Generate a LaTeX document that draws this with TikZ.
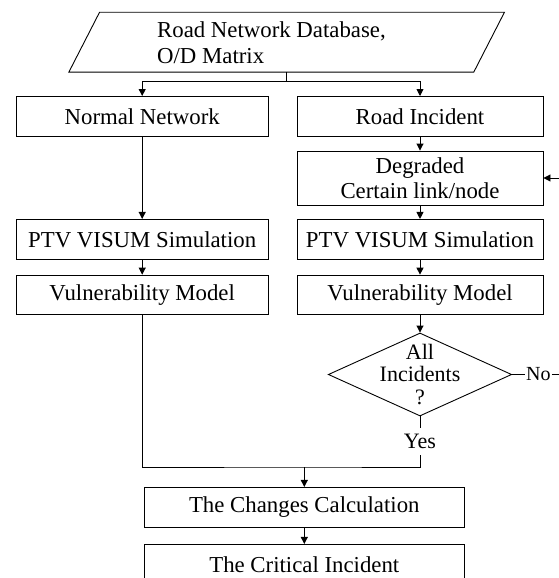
\documentclass[tikz,border=0pt]{standalone}
\usepackage{fontspec}
\setmainfont{Liberation Serif}
\usetikzlibrary{shapes.geometric,arrows.meta,calc}
\begin{document}
\begin{tikzpicture}[x=1pt,y=-1pt,line width=0.9pt,
  box/.style={draw, rectangle, inner sep=0pt, align=center, font=\fontsize{22.8}{25.5}\selectfont},
  lw/.style={minimum width=252.3pt},
  rw/.style={minimum width=246pt},
  hh/.style={minimum height=39.8pt},
  arr/.style={-{Triangle[length=7pt,width=7pt]}},
  lbl/.style={font=\fontsize{22}{22.5}\selectfont, inner sep=0pt}]
\useasboundingbox (0,0) rectangle (559,578);
\clip (0,0) rectangle (559,578);
% database
\node[minimum width=434.7pt, minimum height=59pt, inner sep=0pt] (db) at (286.65,42.2) {};
\draw (db.south west) -- ($(db.north west)+(30.7,0)$) -- (db.north east) -- ($(db.south east)-(30.7,0)$) -- cycle;
\node[align=left, anchor=west, inner sep=0pt, font=\fontsize{22.8}{25.5}\selectfont] (dbt) at (156.7,42.5) {Road Network Database,\\O/D Matrix};
\coordinate (split) at (286.65,81.7);
% boxes
\node[box, lw, hh] (nn) at (142.2,116.35) {Normal Network};
\node[box, rw, hh] (ri) at (420,116.35) {Road Incident};
\node[box, rw, minimum height=54pt] (deg) at (420,178) {Degraded\\Certain link/node};
\node[box, lw, hh] (ptvL) at (142.2,239.3) {PTV VISUM Simulation};
\node[box, rw, hh] (ptvR) at (420,239.3) {PTV VISUM Simulation};
\node[box, lw, hh] (vmL) at (142.2,295) {Vulnerability Model};
\node[box, rw, hh] (vmR) at (420,295) {Vulnerability Model};
\node[diamond, draw, minimum width=183.4pt, minimum height=83pt, inner sep=0pt] (dia) at (420,374.5) {};
\node[lbl, align=center] (diat) at (dia.center) {All\\Incidents\\?};
\node[lbl, text height=20pt, text depth=6.7pt, anchor=base] (yes) at (420,448.3) {Yes};
\node[font=\fontsize{20}{22}\selectfont, inner xsep=1pt, inner ysep=0pt] (no) at (538.3,374.5) {No};
\coordinate (lp) at (580,374.5);
\coordinate (jn) at (304.3,467);
\node[box, minimum width=320pt, hh] (cc) at (304.3,507.3) {The Changes Calculation};
\node[box, minimum width=320pt, hh] (ci) at (304.3,564.3) {The Critical Incident};
% connectors
\draw (db.south) -- (split);
\draw[arr] (split) -| (nn.north);
\draw[arr] (split) -| (ri.north);
\draw[arr] (nn) -- (ptvL);
\draw[arr] (ptvL) -- (vmL);
\draw[arr] (ri) -- (deg);
\draw[arr] (deg) -- (ptvR);
\draw[arr] (ptvR) -- (vmR);
\draw[arr] (vmR) -- (dia.north);
\draw (dia.south) -- (yes.north);
\draw (vmL.south) |- (jn) -| (yes.south);
\draw[arr] (jn) -- (cc.north);
\draw[arr] (cc) -- (ci);
\draw (dia.east) -- (no.west);
\draw[arr] (no.east) -- (lp) |- (deg.east);
\end{tikzpicture}
\end{document}
